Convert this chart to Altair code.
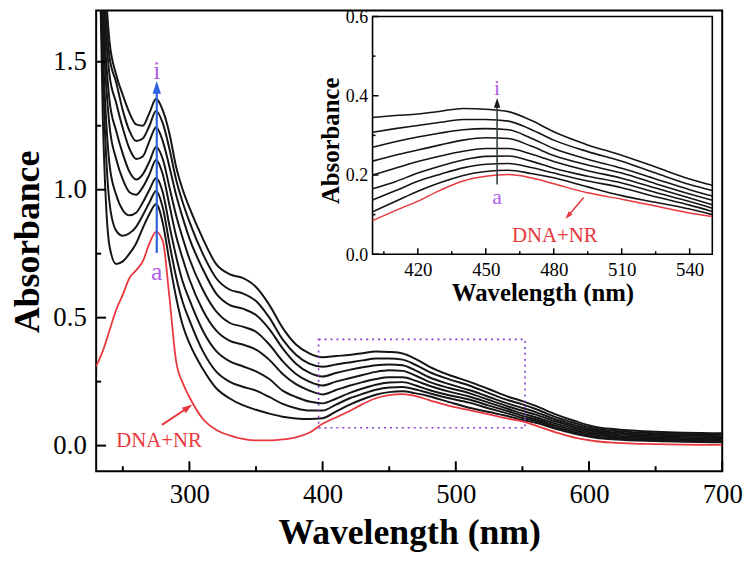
import altair as alt
import pandas as pd

# ---------------- data ----------------
WAVELENGTH = [230, 235, 240, 245, 250, 255, 260, 265, 270, 275,
              280, 285, 290, 295, 300, 310, 320, 330, 340, 350,
              360, 370, 380, 390, 400, 410, 420, 430, 440, 450,
              460, 470, 480, 495, 510, 525, 540, 550, 560, 575,
              590, 605, 620, 650, 700]

CURVE_A = [0.31, 0.37, 0.45, 0.53, 0.59, 0.655, 0.685, 0.72, 0.79, 0.835,
           0.80, 0.58, 0.33, 0.245, 0.19, 0.105, 0.062, 0.04, 0.026, 0.02,
           0.02, 0.024, 0.032, 0.05, 0.085, 0.11, 0.134, 0.162, 0.185, 0.197,
           0.201, 0.193, 0.178, 0.155, 0.139, 0.122, 0.104, 0.095, 0.078, 0.052,
           0.03, 0.017, 0.011, 0.006, 0.003]
CURVE_B = [2.6, 1.28, 0.78, 0.71, 0.72, 0.75, 0.79, 0.85, 0.905, 0.944,
           0.87, 0.72, 0.58, 0.47, 0.40, 0.30, 0.225, 0.185, 0.158, 0.14,
           0.125, 0.113, 0.106, 0.104, 0.107, 0.133, 0.159, 0.181, 0.199, 0.209,
           0.212, 0.204, 0.193, 0.17, 0.148, 0.131, 0.114, 0.10, 0.089, 0.066,
           0.045, 0.031, 0.024, 0.018, 0.013]
CURVE_C = [2.5, 1.45, 0.95, 0.84, 0.82, 0.83, 0.855, 0.90, 0.95, 0.995,
           0.93, 0.79, 0.66, 0.56, 0.49, 0.37, 0.29, 0.25, 0.23, 0.215,
           0.19, 0.163, 0.146, 0.137, 0.137, 0.16, 0.184, 0.202, 0.218, 0.227,
           0.229, 0.219, 0.205, 0.185, 0.168, 0.145, 0.124, 0.108, 0.096, 0.072,
           0.051, 0.036, 0.029, 0.022, 0.017]
CURVE_D = [2.45, 1.55, 1.10, 0.98, 0.92, 0.90, 0.91, 0.95, 1.00, 1.046,
           0.99, 0.86, 0.74, 0.64, 0.57, 0.45, 0.37, 0.33, 0.31, 0.29,
           0.26, 0.215, 0.19, 0.172, 0.165, 0.183, 0.205, 0.223, 0.238, 0.247,
           0.248, 0.235, 0.217, 0.197, 0.18, 0.156, 0.133, 0.116, 0.103, 0.079,
           0.058, 0.042, 0.034, 0.027, 0.022]
CURVE_E = [2.4, 1.65, 1.25, 1.12, 1.04, 0.99, 0.98, 1.01, 1.06, 1.116,
           1.06, 0.94, 0.82, 0.73, 0.65, 0.53, 0.45, 0.41, 0.395, 0.375,
           0.335, 0.28, 0.24, 0.215, 0.20, 0.217, 0.234, 0.248, 0.26, 0.267,
           0.267, 0.253, 0.234, 0.211, 0.192, 0.167, 0.142, 0.125, 0.111, 0.086,
           0.065, 0.048, 0.039, 0.032, 0.027]
CURVE_F = [2.35, 1.72, 1.35, 1.23, 1.14, 1.07, 1.04, 1.06, 1.11, 1.167,
           1.12, 1.01, 0.90, 0.81, 0.73, 0.61, 0.525, 0.48, 0.465, 0.445,
           0.395, 0.33, 0.28, 0.25, 0.235, 0.25, 0.263, 0.276, 0.288, 0.294,
           0.292, 0.273, 0.249, 0.225, 0.205, 0.178, 0.152, 0.136, 0.121, 0.094,
           0.072, 0.054, 0.045, 0.037, 0.032]
CURVE_G = [2.3, 1.78, 1.45, 1.34, 1.24, 1.16, 1.12, 1.13, 1.19, 1.244,
           1.19, 1.09, 0.98, 0.89, 0.81, 0.69, 0.595, 0.55, 0.535, 0.51,
           0.455, 0.38, 0.32, 0.285, 0.27, 0.284, 0.296, 0.306, 0.314, 0.317,
           0.314, 0.293, 0.267, 0.24, 0.217, 0.19, 0.163, 0.147, 0.131, 0.102,
           0.079, 0.06, 0.051, 0.042, 0.037]
CURVE_H = [2.3, 1.85, 1.52, 1.42, 1.31, 1.23, 1.19, 1.20, 1.25, 1.308,
           1.26, 1.16, 1.04, 0.95, 0.875, 0.75, 0.655, 0.61, 0.595, 0.565,
           0.50, 0.415, 0.355, 0.32, 0.308, 0.317, 0.325, 0.333, 0.34, 0.34,
           0.336, 0.315, 0.288, 0.259, 0.235, 0.205, 0.176, 0.161, 0.143, 0.111,
           0.087, 0.066, 0.057, 0.048, 0.043]
CURVE_I = [2.3, 1.95, 1.58, 1.45, 1.37, 1.30, 1.255, 1.25, 1.30, 1.355,
           1.31, 1.22, 1.09, 1.00, 0.93, 0.81, 0.71, 0.67, 0.655, 0.62,
           0.55, 0.46, 0.395, 0.36, 0.345, 0.35, 0.354, 0.361, 0.368, 0.366,
           0.36, 0.338, 0.309, 0.276, 0.25, 0.22, 0.19, 0.174, 0.155, 0.122,
           0.095, 0.073, 0.064, 0.054, 0.048]

SERIES = ["a", "b", "c", "d", "e", "f", "g", "h", "i"]
CURVES = [CURVE_A, CURVE_B, CURVE_C, CURVE_D, CURVE_E, CURVE_F, CURVE_G, CURVE_H, CURVE_I]

# axes / ranges
MAIN_X_DOMAIN = [230, 700]
MAIN_Y_DOMAIN = [-0.1, 1.7]
MAIN_X_MAJOR = [300, 400, 500, 600, 700]
MAIN_X_MINOR = [250, 350, 450, 550, 650]
MAIN_Y_MAJOR = [0.0, 0.5, 1.0, 1.5]
MAIN_Y_MINOR = [0.25, 0.75, 1.25]

INSET_X_DOMAIN = [400, 550]
INSET_Y_DOMAIN = [0.0, 0.6]
INSET_X_MAJOR = [420, 450, 480, 510, 540]
INSET_X_MINOR = [405, 435, 465, 495, 525]
INSET_Y_MAJOR = [0.0, 0.2, 0.4, 0.6]
INSET_Y_MINOR = [0.1, 0.3, 0.5]

# zoom box drawn in main panel
BOX = {"x0": [397], "x1": [552], "y0": [0.07], "y1": [0.415]}

# annotations
MAIN_ARROW = {"wl": [275.5], "y0": [0.753], "y1": [1.40]}
MAIN_LETTERS = {"wl": [275.5, 275.5], "abs": [1.434, 0.649], "text": ["i", "a"]}
MAIN_DNA_LABEL = {"wl": [245.0], "abs": [-0.005], "text": ["DNA+NR"]}
MAIN_RED_ARROW = {"x0": [279.4], "y0": [0.081], "x1": [299.0], "y1": [0.149]}

INSET_ARROW = {"wl": [455.0], "y0": [0.176], "y1": [0.382]}
INSET_LETTERS = {"wl": [455.0, 455.0], "abs": [0.403, 0.127], "text": ["i", "a"]}
INSET_DNA_LABEL = {"wl": [461.6], "abs": [0.03], "text": ["DNA+NR"]}
INSET_RED_ARROW = {"x0": [493.2], "y0": [0.143], "x1": [486.3], "y1": [0.0966]}

# ---------------- layout ----------------
W = 632
H = 465
IX0, IX1 = 279, 622      # inset plot range inside the main view (pixels)
IY0, IY1 = 246, 6
SERIF = "Liberation Serif"
RED = "#e8383d"
BLACK = "#151515"
PURPLE = "#b05ee8"
BLUE = "#2e62e0"
BOXC = "#8a3fd1"
TICKC = "black"
ARROW_PATH = "M0,-1L0.65,1L-0.65,1Z"

rows = []
for name, vals in zip(SERIES, CURVES):
    for w, v in zip(WAVELENGTH, vals):
        rows.append({"wl": w, "abs": v, "s": name})
df = pd.DataFrame(rows)

XS = alt.Scale(domain=MAIN_X_DOMAIN, nice=False, zero=False)
YS = alt.Scale(domain=MAIN_Y_DOMAIN, nice=False, zero=False)
IXS = alt.Scale(domain=INSET_X_DOMAIN, range=[IX0, IX1], nice=False, zero=False)
IYS = alt.Scale(domain=INSET_Y_DOMAIN, range=[IY0, IY1], nice=False, zero=False)

x_lab = alt.Axis(orient="bottom", values=MAIN_X_MAJOR, ticks=False, tickSize=0, domain=False,
                 grid=False, labelFont=SERIF, labelFontSize=27, labelColor="black",
                 labelPadding=32, labelBaseline="alphabetic", labelFlush=False,
                 title="Wavelength (nm)", titleFont=SERIF, titleFontSize=36,
                 titleFontWeight="bold", titleColor="black", titleX=316, titleY=73,
                 titleBaseline="alphabetic", titleAlign="center")
y_lab = alt.Axis(orient="left", values=MAIN_Y_MAJOR, format=".1f", ticks=False, tickSize=0,
                 domain=False, grid=False, labelFont=SERIF, labelFontSize=27,
                 labelColor="black", labelPadding=10, labelFlush=False,
                 title="Absorbance", titleFont=SERIF, titleFontSize=36,
                 titleFontWeight="bold", titleColor="black", titleX=-58, titleY=233,
                 titleAngle=270, titleBaseline="alphabetic", titleAlign="center")

ix_lab = alt.Axis(orient="bottom", offset=IY0 - H, values=INSET_X_MAJOR, ticks=False,
                  tickSize=0, domain=False, grid=False, labelFont=SERIF, labelFontSize=19,
                  labelColor="black", labelPadding=21, labelBaseline="alphabetic",
                  labelFlush=False, title="Wavelength (nm)", titleFont=SERIF,
                  titleFontSize=25, titleFontWeight="bold", titleColor="black",
                  titleX=(IX0 + IX1) / 2, titleY=47, titleBaseline="alphabetic",
                  titleAlign="center", zindex=2)
iy_lab = alt.Axis(orient="left", offset=-IX0, values=INSET_Y_MAJOR, format=".1f", ticks=False,
                  tickSize=0, domain=False, grid=False, labelFont=SERIF, labelFontSize=18,
                  labelColor="black", labelPadding=5, labelFlush=False, labelOffset=1,
                  title="Absorbance", titleFont=SERIF, titleFontSize=25,
                  titleFontWeight="bold", titleColor="black", titleX=-34, titleY=131,
                  titleAngle=270, titleBaseline="alphabetic", titleAlign="center", zindex=2)

base = alt.Chart(df)


def xticks(values, scale, y_base, length, width):
    return alt.Chart(pd.DataFrame({"v": values})).mark_rule(
        color=TICKC, strokeWidth=width
    ).encode(x=alt.X("v:Q", scale=scale, axis=None),
             y=alt.value(y_base), y2=alt.value(y_base - length))


def yticks(values, scale, x_base, length, width):
    return alt.Chart(pd.DataFrame({"v": values})).mark_rule(
        color=TICKC, strokeWidth=width
    ).encode(y=alt.Y("v:Q", scale=scale, axis=None),
             x=alt.value(x_base), x2=alt.value(x_base + length))


main_black = base.transform_filter("datum.s != 'a'").mark_line(
    clip=True, interpolate="monotone", strokeWidth=2, color=BLACK
).encode(x=alt.X("wl:Q", scale=XS, axis=x_lab),
         y=alt.Y("abs:Q", scale=YS, axis=y_lab),
         detail="s:N")
main_red = base.transform_filter("datum.s == 'a'").mark_line(
    clip=True, interpolate="monotone", strokeWidth=1.8, color=RED
).encode(x=alt.X("wl:Q", scale=XS, axis=None),
         y=alt.Y("abs:Q", scale=YS, axis=None))

main_box = alt.Chart(pd.DataFrame(BOX)).mark_rect(
    filled=False, stroke=BOXC, strokeWidth=1.6, strokeDash=[2, 4]
).encode(x=alt.X("x0:Q", scale=XS, axis=None), x2="x1:Q",
         y=alt.Y("y0:Q", scale=YS, axis=None), y2="y1:Q")

main_arrow = alt.Chart(pd.DataFrame(MAIN_ARROW)).mark_rule(
    color=BLUE, strokeWidth=2.2
).encode(x=alt.X("wl:Q", scale=XS, axis=None),
         y=alt.Y("y0:Q", scale=YS, axis=None), y2="y1:Q")
main_head = alt.Chart(pd.DataFrame(MAIN_ARROW)).mark_point(
    shape=ARROW_PATH, filled=True, size=169, color=BLUE, opacity=1
).encode(x=alt.X("wl:Q", scale=XS, axis=None), y=alt.Y("y1:Q", scale=YS, axis=None))

main_letters = alt.Chart(pd.DataFrame(MAIN_LETTERS)).mark_text(
    font=SERIF, fontSize=26, color=PURPLE, baseline="alphabetic", align="center"
).encode(x=alt.X("wl:Q", scale=XS, axis=None), y=alt.Y("abs:Q", scale=YS, axis=None),
         text="text:N")
main_dna = alt.Chart(pd.DataFrame(MAIN_DNA_LABEL)).mark_text(
    font=SERIF, fontSize=21, color=RED, baseline="alphabetic", align="left"
).encode(x=alt.X("wl:Q", scale=XS, axis=None), y=alt.Y("abs:Q", scale=YS, axis=None),
         text="text:N")
main_red_arrow = alt.Chart(pd.DataFrame(MAIN_RED_ARROW)).mark_rule(
    color=RED, strokeWidth=2
).encode(x=alt.X("x0:Q", scale=XS, axis=None), x2="x1:Q",
         y=alt.Y("y0:Q", scale=YS, axis=None), y2="y1:Q")
main_red_head = alt.Chart(pd.DataFrame(MAIN_RED_ARROW)).mark_point(
    shape=ARROW_PATH, filled=True, size=110, angle=55, color=RED, opacity=1
).encode(x=alt.X("x1:Q", scale=XS, axis=None), y=alt.Y("y1:Q", scale=YS, axis=None))

main_ticks = [
    xticks(MAIN_X_MAJOR, XS, H, 10, 2),
    xticks(MAIN_X_MINOR, XS, H, 5, 2),
    yticks(MAIN_Y_MAJOR, YS, 0, 10, 2),
    yticks(MAIN_Y_MINOR, YS, 0, 5, 2),
]

inset_frame = alt.Chart(pd.DataFrame({"x0": [INSET_X_DOMAIN[0]], "x1": [INSET_X_DOMAIN[1]],
                                      "y0": [INSET_Y_DOMAIN[0]], "y1": [INSET_Y_DOMAIN[1]]})
                        ).mark_rect(fill="white", stroke="black", strokeWidth=1.6).encode(
    x=alt.X("x0:Q", scale=IXS, axis=None), x2="x1:Q",
    y=alt.Y("y0:Q", scale=IYS, axis=None), y2="y1:Q")

inset_filter = f"datum.wl >= {INSET_X_DOMAIN[0]} && datum.wl <= {INSET_X_DOMAIN[1]}"
inset_black = base.transform_filter(inset_filter).transform_filter("datum.s != 'a'").mark_line(
    interpolate="monotone", strokeWidth=1.6, color=BLACK
).encode(x=alt.X("wl:Q", scale=IXS, axis=ix_lab),
         y=alt.Y("abs:Q", scale=IYS, axis=iy_lab),
         detail="s:N")
inset_red = base.transform_filter(inset_filter).transform_filter("datum.s == 'a'").mark_line(
    interpolate="monotone", strokeWidth=1.5, color=RED
).encode(x=alt.X("wl:Q", scale=IXS, axis=None),
         y=alt.Y("abs:Q", scale=IYS, axis=None))

inset_arrow = alt.Chart(pd.DataFrame(INSET_ARROW)).mark_rule(
    color="#34403f", strokeWidth=1.6
).encode(x=alt.X("wl:Q", scale=IXS, axis=None),
         y=alt.Y("y0:Q", scale=IYS, axis=None), y2="y1:Q")
inset_head = alt.Chart(pd.DataFrame(INSET_ARROW)).mark_point(
    shape=ARROW_PATH, filled=True, size=100, color="#1a1a1a", opacity=1
).encode(x=alt.X("wl:Q", scale=IXS, axis=None), y=alt.Y("y1:Q", scale=IYS, axis=None))
inset_letters = alt.Chart(pd.DataFrame(INSET_LETTERS)).mark_text(
    font=SERIF, fontSize=22, color=PURPLE, baseline="alphabetic", align="center"
).encode(x=alt.X("wl:Q", scale=IXS, axis=None), y=alt.Y("abs:Q", scale=IYS, axis=None),
         text="text:N")
inset_dna = alt.Chart(pd.DataFrame(INSET_DNA_LABEL)).mark_text(
    font=SERIF, fontSize=21, color=RED, baseline="alphabetic", align="left"
).encode(x=alt.X("wl:Q", scale=IXS, axis=None), y=alt.Y("abs:Q", scale=IYS, axis=None),
         text="text:N")
inset_red_arrow = alt.Chart(pd.DataFrame(INSET_RED_ARROW)).mark_rule(
    color=RED, strokeWidth=1.5
).encode(x=alt.X("x0:Q", scale=IXS, axis=None), x2="x1:Q",
         y=alt.Y("y0:Q", scale=IYS, axis=None), y2="y1:Q")
inset_red_head = alt.Chart(pd.DataFrame(INSET_RED_ARROW)).mark_point(
    shape=ARROW_PATH, filled=True, size=64, angle=220, color=RED, opacity=1
).encode(x=alt.X("x1:Q", scale=IXS, axis=None), y=alt.Y("y1:Q", scale=IYS, axis=None))

inset_ticks = [
    xticks(INSET_X_MAJOR, IXS, IY0, 6, 1.5),
    xticks(INSET_X_MINOR, IXS, IY0, 3, 1.5),
    yticks(INSET_Y_MAJOR, IYS, IX0, 6, 1.5),
    yticks(INSET_Y_MINOR, IYS, IX0, 3, 1.5),
]

chart = alt.layer(
    main_black, main_red, main_box, main_arrow, main_head, main_letters, main_dna,
    main_red_arrow, main_red_head, *main_ticks,
    inset_frame, inset_black, inset_red, inset_arrow, inset_head, inset_letters,
    inset_dna, inset_red_arrow, inset_red_head, *inset_ticks
).resolve_scale(x="independent", y="independent").properties(
    width=W, height=H,
    padding={"left": 89, "top": 0, "right": 22, "bottom": 80},
    autosize=alt.AutoSizeParams(type="none"),
    background="white"
).configure_view(stroke="black", strokeWidth=2)

chart.save("out.html", embed_options={"renderer": "svg", "actions": False})
